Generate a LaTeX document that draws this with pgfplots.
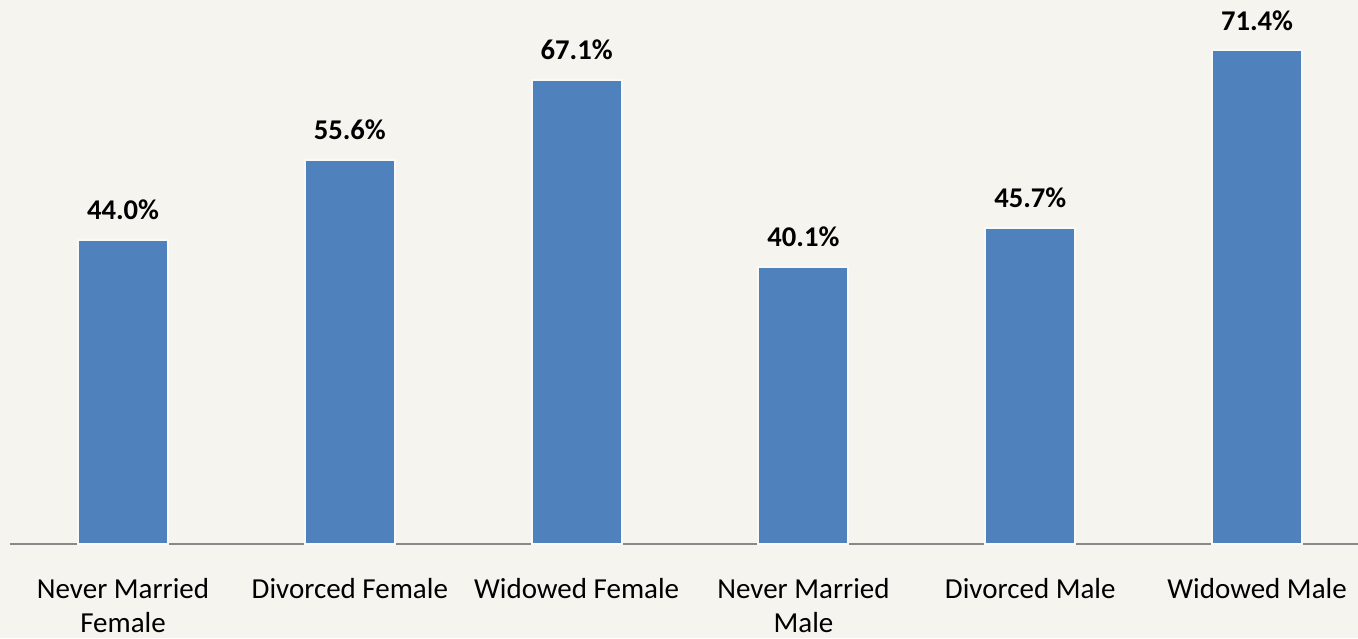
\documentclass[border=0pt]{standalone}
\usepackage{pgfplots}
\pgfplotsset{compat=1.18}
\usepackage{fontspec}
\setmainfont{Carlito}
\definecolor{bg}{RGB}{245,244,238}
\definecolor{barblue}{RGB}{79,129,189}
\definecolor{axisgray}{RGB}{136,136,136}
\begin{document}
\begin{tikzpicture}
\path[use as bounding box, fill=bg] (-4.8pt,-47pt) rectangle (674.2pt,272pt);
\clip (-4.8pt,-47pt) rectangle (674.2pt,272pt);
\begin{axis}[
  at={(0,0)}, anchor=south west,
  scale only axis,
  width=674.2pt, height=272pt,
  xmin=-0.5, xmax=5.445,
  ymin=0, ymax=78.7,
  axis x line=bottom,
  axis y line=none,
  x axis line style={-, color=axisgray, line width=1pt},
  xtick={0,1,2,3,4,5},
  xticklabels={{Never Married\\Female},{Divorced Female},{Widowed Female},{Never Married\\Male},{Divorced Male},{Widowed Male}},
  xticklabel style={align=center, font=\fontsize{14.5}{17}\selectfont, anchor=north, yshift=-13.8pt},
  major tick length=0pt,
  ytick=\empty,
  ybar, bar width=45pt,
  nodes near coords={\pgfmathprintnumber[fixed,fixed zerofill,precision=1]{\pgfplotspointmeta}\%},
  nodes near coords style={font=\bfseries\fontsize{14.3}{16}\selectfont, /pgf/number format/assume math mode=true, anchor=south, inner sep=0pt, yshift=9.5pt},
  clip=false,
]
\addplot[fill=barblue, draw=white!95!gray, line width=1pt] coordinates {(0,44.0) (1,55.6) (2,67.1) (3,40.1) (4,45.7) (5,71.4)};
\end{axis}
\end{tikzpicture}
\end{document}
